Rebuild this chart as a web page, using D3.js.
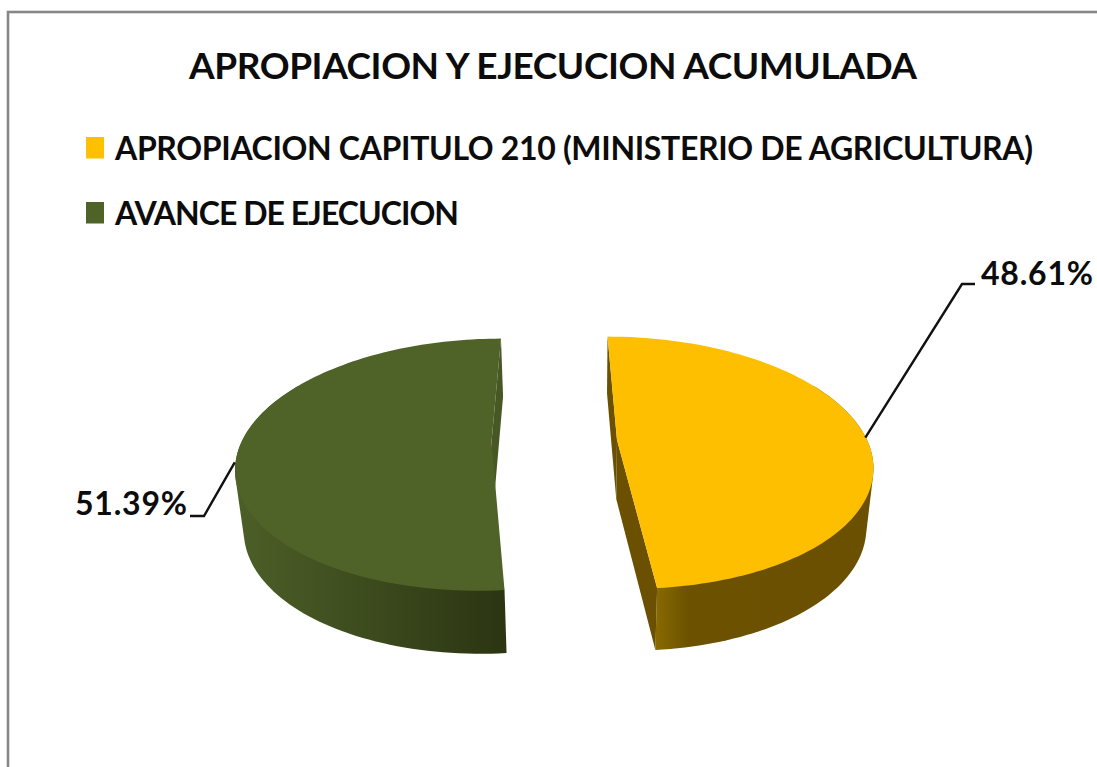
<!DOCTYPE html>
<html><head><meta charset="utf-8">
<script src="https://cdn.jsdelivr.net/npm/d3@7/dist/d3.min.js"></script>
<style>html,body{margin:0;padding:0;background:#fff;overflow:hidden}svg{display:block}text{font-family:Lato,"Open Sans",sans-serif;font-weight:700;fill:#0c0c0c}</style>
</head><body><svg id="c" width="1097" height="767"></svg>
<script>
const chartTitle = "APROPIACION Y EJECUCION ACUMULADA";
const categories = ["APROPIACION CAPITULO 210 (MINISTERIO DE AGRICULTURA)", "AVANCE DE EJECUCION"];
const values = [48.61, 51.39];
const topColors = ["#FDBF00", "#4F6228"];

const svg = d3.select("#c");
const defs = svg.append("defs");
function grad(id, x1, x2, stops){
  const g = defs.append("linearGradient").attr("id", id).attr("gradientUnits","userSpaceOnUse")
    .attr("x1",x1).attr("x2",x2).attr("y1",0).attr("y2",0);
  stops.forEach(s => g.append("stop").attr("offset",s[0]).attr("stop-color",s[1]));
}
grad("wall0", 652, 870, [[0,"#8C6C00"],[0.17,"#6B5100"],[1,"#6A5000"]]);
grad("wall1", 243, 507, [[0,"#4C5E27"],[0.5,"#3C4A1D"],[1,"#2B3512"]]);
const radialFill = ["#6A5000", "#475824"];

svg.append("rect").attr("x",8).attr("y",12).attr("width",1200).attr("height",900)
  .attr("fill","#fff").attr("stroke","#878787").attr("stroke-width",2.6);

svg.append("text").attr("x",189).attr("y",79).attr("font-size",37).attr("textLength",728)
  .attr("lengthAdjust","spacing").text(chartTitle);

const legendY = d3.scalePoint().domain(categories).range([160,225]);
const legendW = [918, 344];
const lg = svg.selectAll("g.lg").data(categories).join("g").attr("class","lg");
lg.append("rect").attr("x",86).attr("width",18).attr("height",21.5)
  .attr("y",d=>legendY(d)-23).attr("fill",(d,i)=>i==0?"#FFC000":topColors[i]);
lg.append("text").attr("x",115).attr("y",d=>legendY(d)).attr("font-size",32)
  .attr("textLength",(d,i)=>legendW[i]).attr("lengthAdjust","spacing").text(d=>d);

// perspective projection of the pie plane
const VX=555, VY=440, RX=250, RY=122, G=0.18, OFF=62, DEPTH=[59,60];
const nudge = [[0,0],[-1.5,2]];
function upper(a, side){
  const x=Math.sin(a), y=Math.cos(a), w=1+G*y;
  return [VX+(side*OFF+RX*x)/w, VY-RY*y/w];
}
function lower(a, side, i){
  const p=upper(a,side);
  return [VX+0.8+0.975*(p[0]-VX), p[1]+DEPTH[i]+0.02*(p[1]-VY)];
}
const apexTop = s => [VX+s*OFF, VY];
const apexBot = (s,i) => [VX+0.8+0.975*s*OFF, VY+DEPTH[i]];
const line = d3.line();
const pie = d3.pie().sort(null).value(d=>d);
const arcs = pie(values);
const sample = (a0,a1) => d3.range(0,121).map(i=>d3.interpolateNumber(a0,a1)(i/120));

arcs.forEach((d,i)=>{
  const s = i==0?1:-1, th = sample(d.startAngle,d.endAngle);
  const g = svg.append("g").attr("transform",`translate(${nudge[i]})`);
  // outer wall: hull of the front-facing part of the rim and its lower copy
  const front = th.filter(a=>Math.cos(a) < 0.5);
  const hull = d3.polygonHull(front.map(a=>upper(a,s)).concat(front.map(a=>lower(a,s,i))));
  g.append("path").attr("fill",`url(#wall${i})`).attr("d",line(hull)+"Z");
  // radial walls that face the viewer
  const visible = i==0 ? [d.startAngle,d.endAngle] : [d.endAngle];
  visible.forEach(a=>{
    g.append("path").attr("fill",radialFill[i])
     .attr("d",line([apexTop(s),upper(a,s),lower(a,s,i),apexBot(s,i)])+"Z");
  });
  // top face
  g.append("path").attr("fill",topColors[i])
   .attr("d",line([apexTop(s)].concat(th.map(a=>upper(a,s))))+"Z");
  // leader + label
  const mid=(d.startAngle+d.endAngle)/2, p=upper(mid,s);
  const pts = i==0 ? [[p[0]+1,p[1]+3],[962,284],[975,284]] : [[p[0]-6,p[1]+17],[204,516],[190,516]];
  svg.append("path").attr("d",line(pts)).attr("fill","none").attr("stroke","#111").attr("stroke-width",2.4);
  svg.append("text").attr("x",i==0?981:75).attr("y",i==0?285:515).attr("font-size",32)
    .attr("textLength",112).attr("lengthAdjust","spacing")
    .text(d3.format(".2f")(d.value)+"%");
});
</script></body></html>
